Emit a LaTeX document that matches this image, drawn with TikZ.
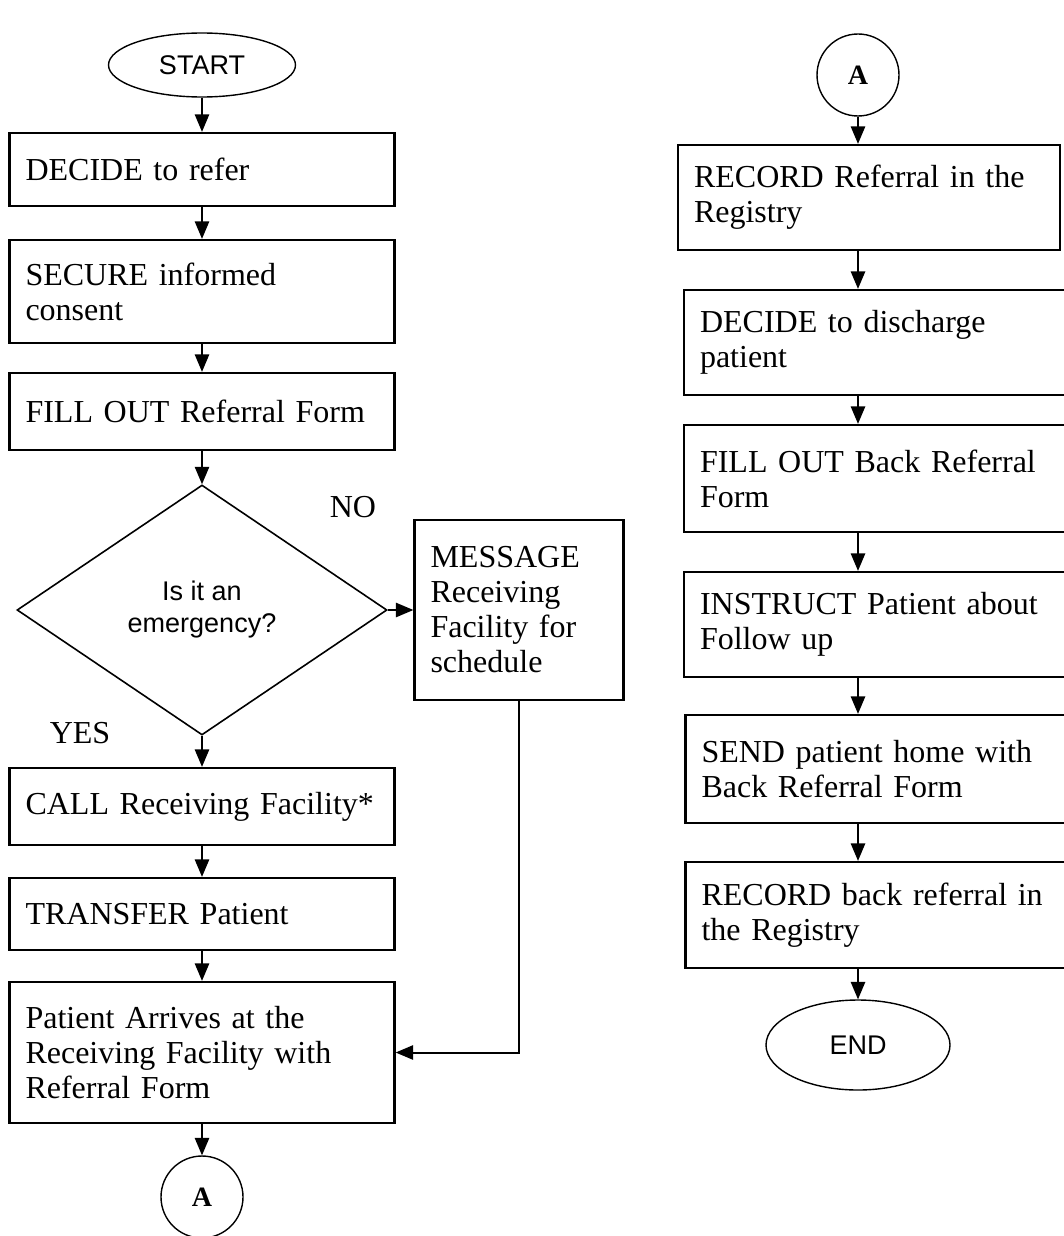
\documentclass[tikz,border=0pt]{standalone}
\usepackage{fontspec}
\setmainfont{Liberation Serif}
\newfontfamily\sansfnt{Liberation Sans}
\usetikzlibrary{arrows}
\usetikzlibrary{shapes.geometric}

\tikzset{
  process/.style={draw=black, line width=1.2pt, shape=rectangle, align=left, inner xsep=8pt, inner ysep=0pt, font=\fontsize{16}{17.5}\selectfont},
  terminal/.style={draw=black, line width=0.7pt, shape=ellipse, inner sep=0pt, font=\sansfnt\fontsize{13.5}{16}\selectfont},
  decision/.style={draw=black, line width=0.8pt, shape=diamond, inner sep=0pt, align=center, font=\sansfnt\fontsize{13.5}{16}\selectfont},
  connector/.style={draw=black, line width=0.7pt, shape=circle, inner sep=0pt, minimum size=41pt, font=\bfseries\fontsize{14}{16}\selectfont},
  answer/.style={font=\fontsize{16}{18}\selectfont},
  flowline/.style={line width=1pt, -triangle 45}
}

\begin{document}
\begin{tikzpicture}[x=0.5pt, y=-0.5pt]

\path[use as bounding box] (0, 0) rectangle (1064, 1236);
\clip (0, 0) rectangle (1064, 1236);

% left column
\node (start) [terminal, minimum width=93.5pt, minimum height=32pt] at (202, 65) {START};
\node (decide) [process, text width=176.5pt, minimum height=36.5pt] at (202, 169.5) {DECIDE to refer};
\node (secure) [process, text width=176.5pt, minimum height=51.5pt] at (202, 291.5) {SECURE informed\\consent};
\node (fillout) [process, text width=176.5pt, minimum height=38.5pt] at (202, 411.5) {FILL OUT Referral Form};
\node (emerg) [decision, minimum width=185pt, minimum height=125pt] at (202, 610) {Is it an\\emergency?};
\node (message) [process, text width=88.5pt, minimum height=90pt] at (519, 610) {MESSAGE\\Receiving\\Facility for\\schedule};
\node (callrf) [process, text width=176.5pt, minimum height=38.5pt] at (202, 806.5) {CALL Receiving Facility*};
\node (transfer) [process, text width=176.5pt, minimum height=36pt] at (202, 914) {TRANSFER Patient};
\node (arrives) [process, text width=176.5pt, minimum height=70.5pt] at (202, 1052.5) {Patient Arrives at the\\Receiving Facility with\\Referral Form};
\node (connA) [connector] at (202, 1197) {A};

\node (no) [answer] at (353, 507) {NO};
\node (yes) [answer] at (80, 733) {YES};

% right column
\node (connB) [connector] at (858, 75) {A};
\node (recref) [process, text width=175pt, minimum height=52.5pt] at (869, 197.5) {RECORD Referral in the\\Registry};
\node (discharge) [process, text width=179.5pt, minimum height=52.5pt] at (879.5, 342.5) {DECIDE to discharge\\patient};
\node (backform) [process, text width=179.5pt, minimum height=53.5pt] at (879.5, 478.5) {FILL OUT Back Referral\\Form};
\node (instruct) [process, text width=179.5pt, minimum height=52.5pt] at (879.5, 624.5) {INSTRUCT Patient about\\Follow up};
\node (sendhome) [process, text width=179.5pt, minimum height=54pt] at (881, 769) {SEND patient home with\\Back Referral Form};
\node (recback) [process, text width=179.5pt, minimum height=53pt] at (881, 915) {RECORD back referral in\\the Registry};
\node (finish) [terminal, minimum width=92pt, minimum height=45pt] at (858, 1045) {END};

\draw[flowline] (start) -- (decide);
\draw[flowline] (decide) -- (secure);
\draw[flowline] (secure) -- (fillout);
\draw[flowline] (fillout) -- (emerg);
\draw[flowline] (emerg) -- (callrf);
\draw[flowline] (emerg) -- (message);
\draw[flowline] (callrf) -- (transfer);
\draw[flowline] (transfer) -- (arrives);
\draw[flowline] (arrives) -- (connA);
\draw[flowline] (message) |- (arrives);

\draw[flowline] (connB) -- (recref.north -| connB);
\draw[flowline] (recref.south -| connB) -- (discharge.north -| connB);
\draw[flowline] (discharge.south -| connB) -- (backform.north -| connB);
\draw[flowline] (backform.south -| connB) -- (instruct.north -| connB);
\draw[flowline] (instruct.south -| connB) -- (sendhome.north -| connB);
\draw[flowline] (sendhome.south -| connB) -- (recback.north -| connB);
\draw[flowline] (recback.south -| connB) -- (finish);

\end{tikzpicture}
\end{document}
